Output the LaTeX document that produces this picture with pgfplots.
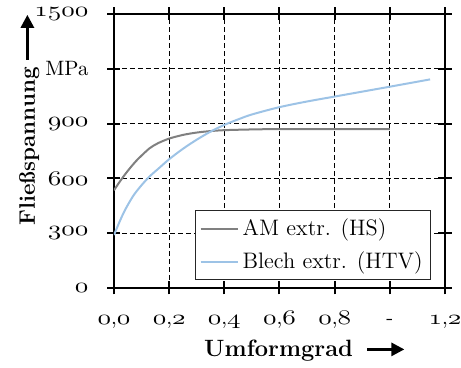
\documentclass[border=0pt]{standalone}
\usepackage{fix-cm}
\usepackage{graphicx}
\usepackage{pgfplots}
\pgfplotsset{compat=1.18}
\usetikzlibrary{arrows.meta}

\definecolor{amgray}{RGB}{128,128,128}
\definecolor{blechblue}{RGB}{157,195,230}
% old style figures from the math italic font, a little wider
\newcommand{\os}[1]{\scalebox{1.3}[1]{$\mathnormal{#1}$}}
\newsavebox{\xarrow}
\newsavebox{\yarrow}

\begin{document}%
\sbox{\xarrow}{\tikz[baseline=-3.8pt]\draw[line width=1.4pt,-{Triangle[length=6.5pt,width=6.5pt]}] (0,0) -- (18.5pt,0);}%
\sbox{\yarrow}{\tikz[baseline=-3.8pt]\draw[line width=1.4pt,-{Triangle[length=6.5pt,width=6.5pt]}] (0,0) -- (22.5pt,0);}%
\begin{tikzpicture}[font=\fontsize{10.4}{12.5}\selectfont]
\begin{axis}[
    scale only axis,
    width=165.5pt, height=137pt,
    xmin=0, xmax=1.2,
    ymin=0, ymax=1500,
    xtick={0,0.2,0.4,0.6,0.8,1.0,1.2},
    xticklabels={{\os{0},\os{0}},{\os{0},\os{2}},{\os{0},\os{4}},{\os{0},\os{6}},{\os{0},\os{8}},-,{\os{1},\os{2}}},
    ytick={0,300,600,900,1200,1500},
    yticklabels={\os{0},\os{300},\os{600},\os{900},MPa,\os{1500}},
    xticklabel style={anchor=base, yshift=-15pt},
    yticklabel style={xshift=-6pt},
    grid=major,
    major grid style={black, line width=0.5pt, dash pattern=on 2.5pt off 1.5pt},
    axis line style={line width=1.3pt},
    tick style={black, line width=1pt},
    major tick length=6.5pt,
    tick align=center,
    xlabel={\fontsize{11.8}{14}\selectfont\textbf{Umformgrad}\hspace{6.5pt}\usebox{\xarrow}},
    xlabel style={at={(rel axis cs:0.577,0)}, anchor=base, yshift=-34.5pt},
    ylabel={\fontsize{11.2}{13.4}\selectfont\textbf{Fließspannung}\hspace{3pt}\usebox{\yarrow}},
    ylabel style={at={(rel axis cs:-0.2387,0.615)}, rotate=0, anchor=base},
    legend style={at={(rel axis cs:0.958,0.029)}, anchor=south east,
        draw=black!85, line width=0.5pt, fill=white,
        font=\fontsize{11.2}{13.4}\selectfont,
        row sep=2.5pt, inner sep=2pt},
    legend cell align=left,
    legend image code/.code={\draw[#1] (0pt,0pt) -- (18.5pt,0pt);},
]

% AM extr. (HS)
\addplot[amgray, line width=1pt, smooth] coordinates {
    (0.00,535) (0.02,580) (0.04,622) (0.06,660) (0.08,695) (0.10,725)
    (0.13,766) (0.16,793) (0.20,818) (0.25,838) (0.30,851) (0.35,859)
    (0.40,864) (0.50,868) (0.60,870) (0.80,870) (1.00,870)
};
\addlegendentry{AM extr. (HS)}

% Blech extr. (HTV)
\addplot[blechblue, line width=1pt, smooth] coordinates {
    (0.00,290) (0.02,362) (0.04,427) (0.07,505) (0.10,563) (0.13,612)
    (0.16,652) (0.20,705) (0.25,762) (0.30,812) (0.35,856) (0.40,893)
    (0.45,923) (0.50,950) (0.60,990) (0.70,1021) (0.80,1048) (0.90,1075)
    (1.00,1102) (1.146,1142)
};
\addlegendentry{Blech extr. (HTV)}

\coordinate (bl) at (rel axis cs:0,0);
\coordinate (tr) at (rel axis cs:1,1);
\end{axis}
\pgfresetboundingbox
\path[use as bounding box] ([shift={(-57pt,-40pt)}]bl) rectangle ([shift={(8pt,7pt)}]tr);
\end{tikzpicture}%
\end{document}
